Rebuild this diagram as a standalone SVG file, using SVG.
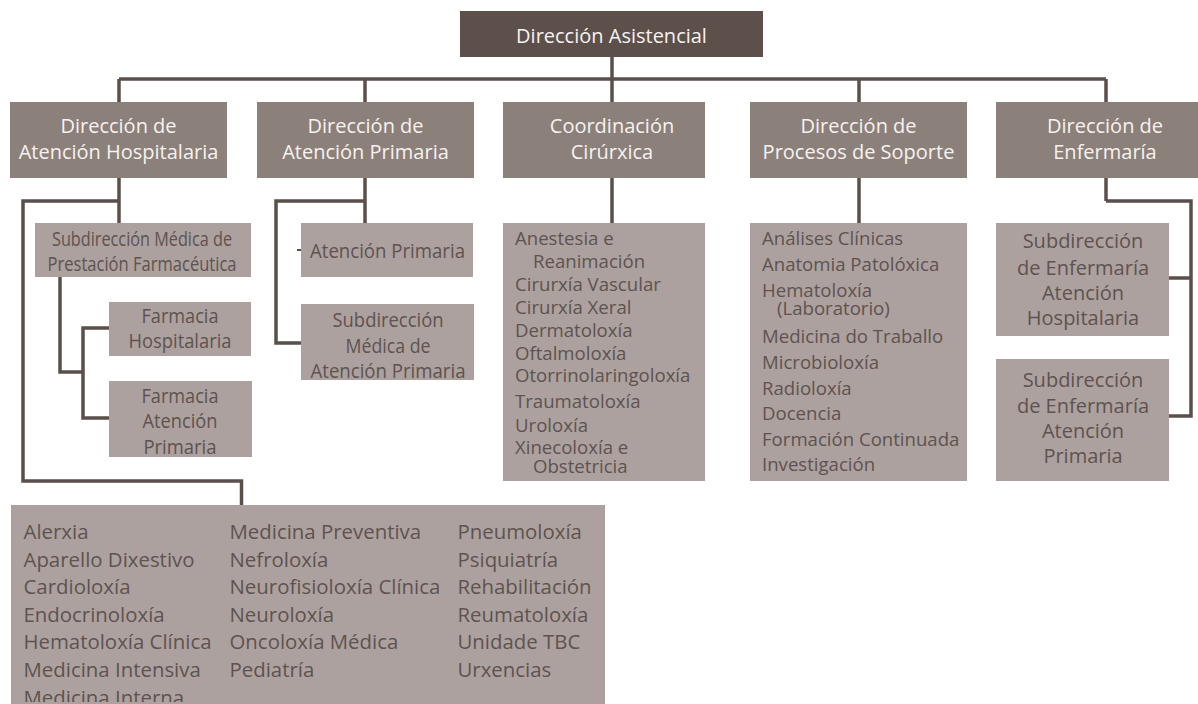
<svg xmlns="http://www.w3.org/2000/svg" width="1198" height="704" viewBox="0 0 1198 704">
<style>
.top{fill:#5d504b}
.l2{fill:#8c807a}
.ch{fill:#aca19e}
.wt{font-family:"Open Sans","Liberation Sans",sans-serif;font-size:20px;fill:#f6f2f0;text-anchor:middle}
.dt{font-family:"Open Sans","Liberation Sans",sans-serif;font-size:20px;fill:#5e5350;text-anchor:middle}
.lt{font-family:"Open Sans","Liberation Sans",sans-serif;font-size:18.6px;fill:#5e5350}
.bt{font-family:"Open Sans","Liberation Sans",sans-serif;font-size:20.4px;fill:#5e5350}
.cn{fill:none;stroke:#5b4f4b;stroke-width:3.5;stroke-linejoin:miter;stroke-linecap:butt}
</style>
<defs>
<clipPath id="bigclip"><rect x="11" y="505" width="594" height="197"/></clipPath>
</defs>
<g id="connectors" class="cn">
<path d="M612,57 V223"/>
<path d="M119,79 H1106"/>
<path d="M119,79 V223"/>
<path d="M365,79 V223"/>
<path d="M859,79 V223"/>
<path d="M1106,79 V201"/>
<path d="M119,201 H23 V481 H241.5 V505"/>
<path d="M60,277 V372 H83"/>
<path d="M109,328 H83 V418 H109"/>
<path d="M365,201 H276 V343 H301"/>
<path d="M297,250 H301" stroke-width="2"/>
<path d="M1106,201 H1191 V416 H1169"/>
<path d="M1191,278 H1169"/>
</g>
<g id="n-direccion-asistencial">
<rect class="top" x="460" y="11" width="303" height="46"/>
<text class="wt" x="611.5" y="43">Dirección Asistencial</text>
</g>
<g id="n-atencion-hospitalaria">
<rect class="l2" x="10" y="102" width="217" height="76"/>
<text class="wt" x="118.5" y="133">Dirección de</text>
<text class="wt" x="118.5" y="159">Atención Hospitalaria</text>
</g>
<g id="n-atencion-primaria">
<rect class="l2" x="257" y="102" width="217" height="76"/>
<text class="wt" x="365.5" y="133">Dirección de</text>
<text class="wt" x="365.5" y="159">Atención Primaria</text>
</g>
<g id="n-coordinacion">
<rect class="l2" x="503" y="102" width="202" height="76"/>
<text class="wt" x="612" y="133">Coordinación</text>
<text class="wt" x="612" y="159">Cirúrxica</text>
</g>
<g id="n-procesos">
<rect class="l2" x="750" y="102" width="217" height="76"/>
<text class="wt" x="858.5" y="133">Dirección de</text>
<text class="wt" x="858.5" y="159">Procesos de Soporte</text>
</g>
<g id="n-enfermaria">
<rect class="l2" x="996" y="102" width="202" height="76"/>
<text class="wt" x="1105" y="133">Dirección de</text>
<text class="wt" x="1105" y="159">Enfermaría</text>
</g>
<g id="n-sub-farmaceutica">
<rect class="ch" x="35" y="223" width="216" height="54"/>
<text class="dt" x="142" y="246" textLength="180" lengthAdjust="spacingAndGlyphs">Subdirección Médica de</text>
<text class="dt" x="142" y="271" textLength="189" lengthAdjust="spacingAndGlyphs">Prestación Farmacéutica</text>
</g>
<g id="n-farmacia-hospitalaria">
<rect class="ch" x="109" y="302" width="142" height="54"/>
<text class="dt" x="180" y="323" textLength="77" lengthAdjust="spacingAndGlyphs">Farmacia</text>
<text class="dt" x="180" y="348" textLength="103" lengthAdjust="spacingAndGlyphs">Hospitalaria</text>
</g>
<g id="n-farmacia-ap">
<rect class="ch" x="109" y="381" width="143" height="76"/>
<text class="dt" x="180" y="403" textLength="77" lengthAdjust="spacingAndGlyphs">Farmacia</text>
<text class="dt" x="180" y="428" textLength="75" lengthAdjust="spacingAndGlyphs">Atención</text>
<text class="dt" x="180" y="454" textLength="73" lengthAdjust="spacingAndGlyphs">Primaria</text>
</g>
<g id="n-ap">
<rect class="ch" x="301" y="223" width="172" height="54"/>
<text class="dt" x="387.5" y="258" textLength="155" lengthAdjust="spacingAndGlyphs">Atención Primaria</text>
</g>
<g id="n-sub-ap">
<rect class="ch" x="301" y="304" width="173" height="76"/>
<text class="dt" x="388" y="327" textLength="111" lengthAdjust="spacingAndGlyphs">Subdirección</text>
<text class="dt" x="388" y="353" textLength="85" lengthAdjust="spacingAndGlyphs">Médica de</text>
<text class="dt" x="388" y="378" textLength="155" lengthAdjust="spacingAndGlyphs">Atención Primaria</text>
</g>
<g id="n-coord-list">
<rect class="ch" x="503" y="223" width="202" height="258"/>
<text class="lt" x="515" y="245">Anestesia e</text>
<text class="lt" x="533" y="268">Reanimación</text>
<text class="lt" x="515" y="291">Cirurxía Vascular</text>
<text class="lt" x="515" y="314">Cirurxía Xeral</text>
<text class="lt" x="515" y="336.5">Dermatoloxía</text>
<text class="lt" x="515" y="359.5">Oftalmoloxía</text>
<text class="lt" x="515" y="382">Otorrinolaringoloxía</text>
<text class="lt" x="515" y="408">Traumatoloxía</text>
<text class="lt" x="515" y="431.5">Uroloxía</text>
<text class="lt" x="515" y="454">Xinecoloxía e</text>
<text class="lt" x="533" y="473">Obstetricia</text>
</g>
<g id="n-procesos-list">
<rect class="ch" x="750" y="223" width="217" height="258"/>
<text class="lt" x="762" y="245">Análises Clínicas</text>
<text class="lt" x="762" y="271">Anatomia Patolóxica</text>
<text class="lt" x="762" y="297">Hematoloxía</text>
<text class="lt" x="777" y="314.5">(Laboratorio)</text>
<text class="lt" x="762" y="343">Medicina do Traballo</text>
<text class="lt" x="762" y="369">Microbioloxía</text>
<text class="lt" x="762" y="395">Radioloxía</text>
<text class="lt" x="762" y="420">Docencia</text>
<text class="lt" x="762" y="446">Formación Continuada</text>
<text class="lt" x="762" y="471">Investigación</text>
</g>
<g id="n-sub-enf-ah">
<rect class="ch" x="996" y="223" width="173" height="113"/>
<text class="dt" x="1083" y="248">Subdirección</text>
<text class="dt" x="1083" y="275">de Enfermaría</text>
<text class="dt" x="1083" y="300">Atención</text>
<text class="dt" x="1083" y="325">Hospitalaria</text>
</g>
<g id="n-sub-enf-ap">
<rect class="ch" x="996" y="359" width="173" height="122"/>
<text class="dt" x="1083" y="387">Subdirección</text>
<text class="dt" x="1083" y="413">de Enfermaría</text>
<text class="dt" x="1083" y="438">Atención</text>
<text class="dt" x="1083" y="463">Primaria</text>
</g>
<g id="n-servizos">
<rect class="ch" x="11" y="505" width="594" height="199"/>
<g clip-path="url(#bigclip)">
<text class="bt" x="23.5" y="539">Alerxia</text>
<text class="bt" x="23.5" y="566.5">Aparello Dixestivo</text>
<text class="bt" x="23.5" y="594">Cardioloxía</text>
<text class="bt" x="23.5" y="621.5">Endocrinoloxía</text>
<text class="bt" x="23.5" y="649">Hematoloxía Clínica</text>
<text class="bt" x="23.5" y="676.5">Medicina Intensiva</text>
<text class="bt" x="23.5" y="704.5">Medicina Interna</text>
<text class="bt" x="229.5" y="539">Medicina Preventiva</text>
<text class="bt" x="229.5" y="566.5">Nefroloxía</text>
<text class="bt" x="229.5" y="594">Neurofisioloxía Clínica</text>
<text class="bt" x="229.5" y="621.5">Neuroloxía</text>
<text class="bt" x="229.5" y="649">Oncoloxía Médica</text>
<text class="bt" x="229.5" y="676.5">Pediatría</text>
<text class="bt" x="457.5" y="539">Pneumoloxía</text>
<text class="bt" x="457.5" y="566.5">Psiquiatría</text>
<text class="bt" x="457.5" y="594">Rehabilitación</text>
<text class="bt" x="457.5" y="621.5">Reumatoloxía</text>
<text class="bt" x="457.5" y="649">Unidade TBC</text>
<text class="bt" x="457.5" y="676.5">Urxencias</text>
</g>
</g>
</svg>
